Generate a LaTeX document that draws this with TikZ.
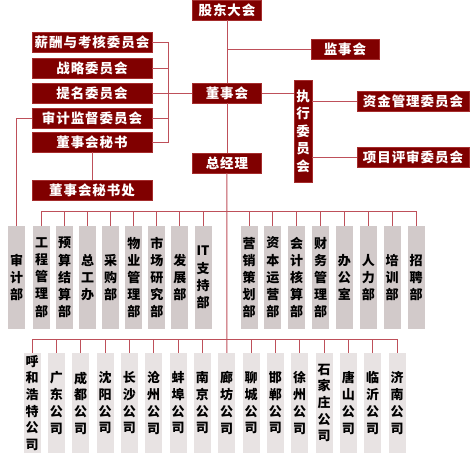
\documentclass[tikz,border=0pt]{standalone}
\usepackage{fontspec}
\setmainfont{Noto Sans CJK SC}
\newfontfamily\redfont[LetterSpace=7]{Noto Sans CJK SC}
\usetikzlibrary{positioning}
\definecolor{boxred}{RGB}{128,0,0}
\definecolor{edgered}{RGB}{165,45,45}
\definecolor{linkred}{RGB}{190,80,90}
\definecolor{deptgray}{RGB}{210,202,202}
\definecolor{compgray}{RGB}{232,227,227}

\begin{document}
\begin{tikzpicture}[x=1pt, y=-1pt]
    % Define styles
    \tikzstyle{redbox}=[rectangle,draw=edgered,fill=boxred,text=white,inner sep=0pt,minimum height=20pt,font=\redfont\bfseries\fontsize{13.5pt}{16pt}\selectfont]
    \tikzstyle{deptbox}=[rectangle,fill=deptgray,inner sep=0pt,minimum width=17pt,minimum height=103pt,align=center,font=\bfseries\fontsize{13pt}{17.2pt}\selectfont]
    \tikzstyle{compbox}=[deptbox,fill=compgray,minimum height=100pt,font=\bfseries\fontsize{13pt}{16.7pt}\selectfont]
    \tikzstyle{link}=[draw=linkred,line width=1pt]

    \useasboundingbox (0,0) rectangle (476,458);

    % Top level
    \node [redbox, minimum width=69pt] (gdhui) at (227,10) {股东大会};
    \node [redbox, minimum width=68pt] (jshhui) at (345,49) {监事会};
    \node [redbox, minimum width=69pt] (dshhui) at (227,93) {董事会};
    \node [redbox, minimum width=69pt] (zjl) at (227,163) {总经理};

    % Executive committee
    \node [redbox, minimum width=18pt, minimum height=102pt, align=center, font=\bfseries\fontsize{13.5pt}{17.5pt}\selectfont] (zxwy) at (303,131) {执\\行\\委\\员\\会};
    \node [redbox, minimum width=112pt] (zjgl) at (413,101.5) {资金管理委员会};
    \node [redbox, minimum width=112pt] (xmps) at (413,157) {项目评审委员会};

    % Board committees
    \node [redbox, minimum width=120pt] (xcwy) at (92,42) {薪酬与考核委员会};
    \node [redbox, minimum width=120pt] (zlwy) at (92,68) {战略委员会};
    \node [redbox, minimum width=120pt] (tmwy) at (92,93) {提名委员会};
    \node [redbox, minimum width=120pt] (sjwy) at (92,118) {审计监督委员会};
    \node [redbox, minimum width=120pt] (dshms) at (92,142) {董事会秘书};
    \node [redbox, minimum width=120pt] (mschu) at (92,190) {董事会秘书处};
    \coordinate (brk) at (168,93);

    % Departments
    \node [deptbox] (sjb) at (16.5,277.5) {审\\计\\部};
    \foreach \x/\nm/\txt in {41.5/gcgl/{工\\程\\管\\理\\部}, 64.6/ysjs/{预\\算\\结\\算\\部}, 87.7/zgb/{总\\工\\办},
        110.7/cgb/{采\\购\\部}, 133.8/wygl/{物\\业\\管\\理\\部}, 156.8/scyj/{市\\场\\研\\究\\部},
        179.9/fzb/{发\\展\\部}, 203/itzc/{IT\\支\\持\\部},
        249/yxch/{营\\销\\策\\划\\部}, 272.9/zbyy/{资\\本\\运\\营\\部}, 296.7/kjhs/{会\\计\\核\\算\\部},
        320.6/cwgl/{财\\务\\管\\理\\部}, 344.4/bgs/{办\\公\\室}, 368.3/rlb/{人\\力\\部},
        392.1/pxb/{培\\训\\部}, 416/zpb/{招\\聘\\部}}
        \node [deptbox] (\nm) at (\x,277.5) {\txt};

    % Companies
    \foreach \x/\nm/\txt in {32/hhht/{呼\\和\\浩\\特\\公\\司}, 56.3/gd/{广\\东\\公\\司}, 80.7/cd/{成\\都\\公\\司},
        105/sy/{沈\\阳\\公\\司}, 129.3/cs/{长\\沙\\公\\司}, 153.7/cz/{沧\\州\\公\\司},
        178/bb/{蚌\\埠\\公\\司}, 202.3/nj/{南\\京\\公\\司}, 226.7/lf/{廊\\坊\\公\\司},
        251/lc/{聊\\城\\公\\司}, 275.3/hd/{邯\\郸\\公\\司}, 299.7/xz/{徐\\州\\公\\司},
        324/sjz/{石\\家\\庄\\公\\司}, 348.3/ts/{唐\\山\\公\\司}, 372.7/ly/{临\\沂\\公\\司}, 397/jn/{济\\南\\公\\司}}
        \node [compbox] (\nm) at (\x,403) {\txt};

    \coordinate (dbus) at (227,211);
    \coordinate (cbus) at (227,339);

    % Define connections
    \path [link] (gdhui) -- (dshhui);
    \path [link] (dshhui) -- (zjl);
    \path [link] (zjl) -- (lf);
    \path [link] (jshhui.west) -- (jshhui.west -| gdhui.south);
    \path [link] (dshhui.east) -- (dshhui.east -| zxwy.west);
    \path [link] (zjgl.west) -- (zjgl.west -| zxwy.east);
    \path [link] (xmps.west) -- (xmps.west -| zxwy.east);
    \path [link] (tmwy.east) -- (dshhui.west);
    \path [link] (xcwy.east) -- (xcwy.east -| brk) -- (dshms.east -| brk) -- (dshms.east);
    \path [link] (zlwy.east) -- (zlwy.east -| brk);
    \path [link] (sjwy.east) -- (sjwy.east -| brk);
    \path [link] (dshms) -- (mschu);
    \path [link] (sjwy.west) -| (sjb.north);

    \path [link] (gcgl.north |- dbus) -- (zpb.north |- dbus);
    \foreach \nm in {gcgl,ysjs,zgb,cgb,wygl,scyj,fzb,itzc,yxch,zbyy,kjhs,cwgl,bgs,rlb,pxb,zpb}
        \path [link] (\nm.north) -- (\nm.north |- dbus);

    \path [link] (hhht.north |- cbus) -- (jn.north |- cbus);
    \foreach \nm in {hhht,gd,cd,sy,cs,cz,bb,nj,lc,hd,xz,sjz,ts,ly,jn}
        \path [link] (\nm.north) -- (\nm.north |- cbus);
\end{tikzpicture}
\end{document}
